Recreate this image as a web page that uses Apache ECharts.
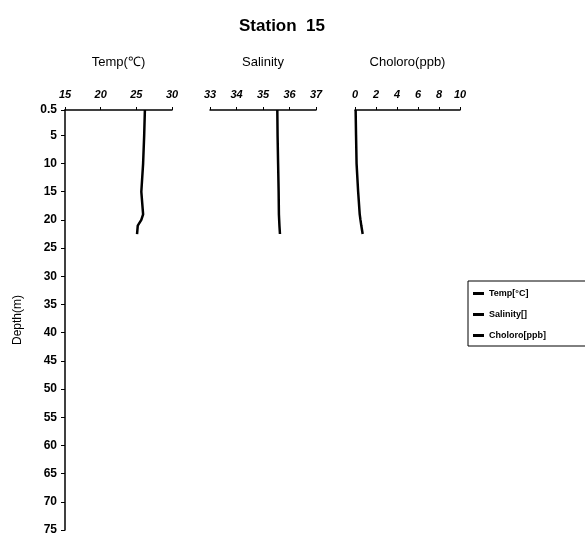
<!DOCTYPE html>
<html>
<head>
<meta charset="utf-8">
<script src="https://cdn.jsdelivr.net/npm/echarts@6/dist/echarts.min.js"></script>
<style>html,body{margin:0;padding:0;background:#fff}#c{width:585px;height:544px}</style>
</head>
<body>
<div id="c"></div>
<script>
var depth = [0.5, 5, 10, 15, 19, 20, 21, 22.5];
var temp = [26.2, 26.1, 25.95, 25.7, 25.95, 25.7, 25.2, 25.1];
var salinity = [35.54, 35.55, 35.57, 35.59, 35.6, 35.61, 35.62, 35.64];
var chloro = [0.06, 0.1, 0.15, 0.3, 0.45, 0.52, 0.6, 0.73];
var depthTicks = [0.5, 5, 10, 15, 20, 25, 30, 35, 40, 45, 50, 55, 60, 65, 70, 75];
var seriesNames = ['Temp[°C]', 'Salinity[]', 'Choloro[ppb]'];
var axisTitles = ['Temp(℃)', 'Salinity', 'Choloro(ppb)'];
var xRanges = [[15, 30, 5], [33, 37, 1], [0, 10, 2]];

function pairs(xs) { return xs.map(function (v, i) { return [v, depth[i]]; }); }

var FONT = 'Liberation Sans';
var grids = [
  {left: 65, width: 107, top: 110, bottom: 14},
  {left: 210, width: 106, top: 110, bottom: 14},
  {left: 355, width: 105, top: 110, bottom: 14}
];
var xAxes = xRanges.map(function (r, i) {
  return {
    type: 'value', gridIndex: i, position: 'top', min: r[0], max: r[1], interval: r[2],
    name: axisTitles[i], nameLocation: 'middle', nameGap: 41,
    nameTextStyle: {fontFamily: FONT, fontSize: 13, color: '#000'},
    axisLine: {show: true, lineStyle: {color: '#000', width: 1.5}},
    axisTick: {show: true, length: 3, lineStyle: {color: '#000'}},
    axisLabel: {fontFamily: FONT, fontSize: 11, fontWeight: 'bold', fontStyle: 'italic', color: '#000', margin: 10},
    splitLine: {show: false}
  };
});
var yAxes = [0, 1, 2].map(function (i) {
  var show = i === 0;
  return {
    type: 'value', gridIndex: i, inverse: true, min: 0.5, max: 75, show: show,
    name: show ? 'Depth(m)' : '', nameLocation: 'middle', nameGap: 41, nameRotate: 90,
    nameTextStyle: {fontFamily: FONT, fontSize: 12, color: '#000'},
    axisLine: {show: show, lineStyle: {color: '#000', width: 1.5}},
    axisTick: {show: show, length: 4, customValues: depthTicks, lineStyle: {color: '#000'}},
    axisLabel: {show: show, customValues: depthTicks, fontFamily: FONT, fontSize: 12, fontWeight: 'bold', color: '#000', margin: 8},
    splitLine: {show: false}
  };
});
var dataSets = [temp, salinity, chloro];
var series = dataSets.map(function (d, i) {
  return {
    name: seriesNames[i], type: 'line', xAxisIndex: i, yAxisIndex: i,
    data: pairs(d), showSymbol: false, symbol: 'none',
    lineStyle: {color: '#000', width: 2.5}, itemStyle: {color: '#000'}
  };
});
var chart = echarts.init(document.getElementById('c'));
chart.setOption({
  animation: false,
  backgroundColor: '#fff',
  title: {text: 'Station  15', left: 277, top: 13, textAlign: 'center',
    textStyle: {fontFamily: FONT, fontSize: 17, fontWeight: 'bold', color: '#000'}},
  legend: {
    data: seriesNames.map(function (n) { return {name: n, icon: 'rect'}; }),
    orient: 'vertical', left: 468, top: 281, itemWidth: 11, itemHeight: 3, itemGap: 12,
    borderColor: '#000', borderWidth: 1, padding: [8, 40, 6, 5],
    textStyle: {fontFamily: FONT, fontSize: 9, fontWeight: 'bold', color: '#000'}
  },
  grid: grids,
  xAxis: xAxes,
  yAxis: yAxes,
  series: series
});
</script>
</body>
</html>
